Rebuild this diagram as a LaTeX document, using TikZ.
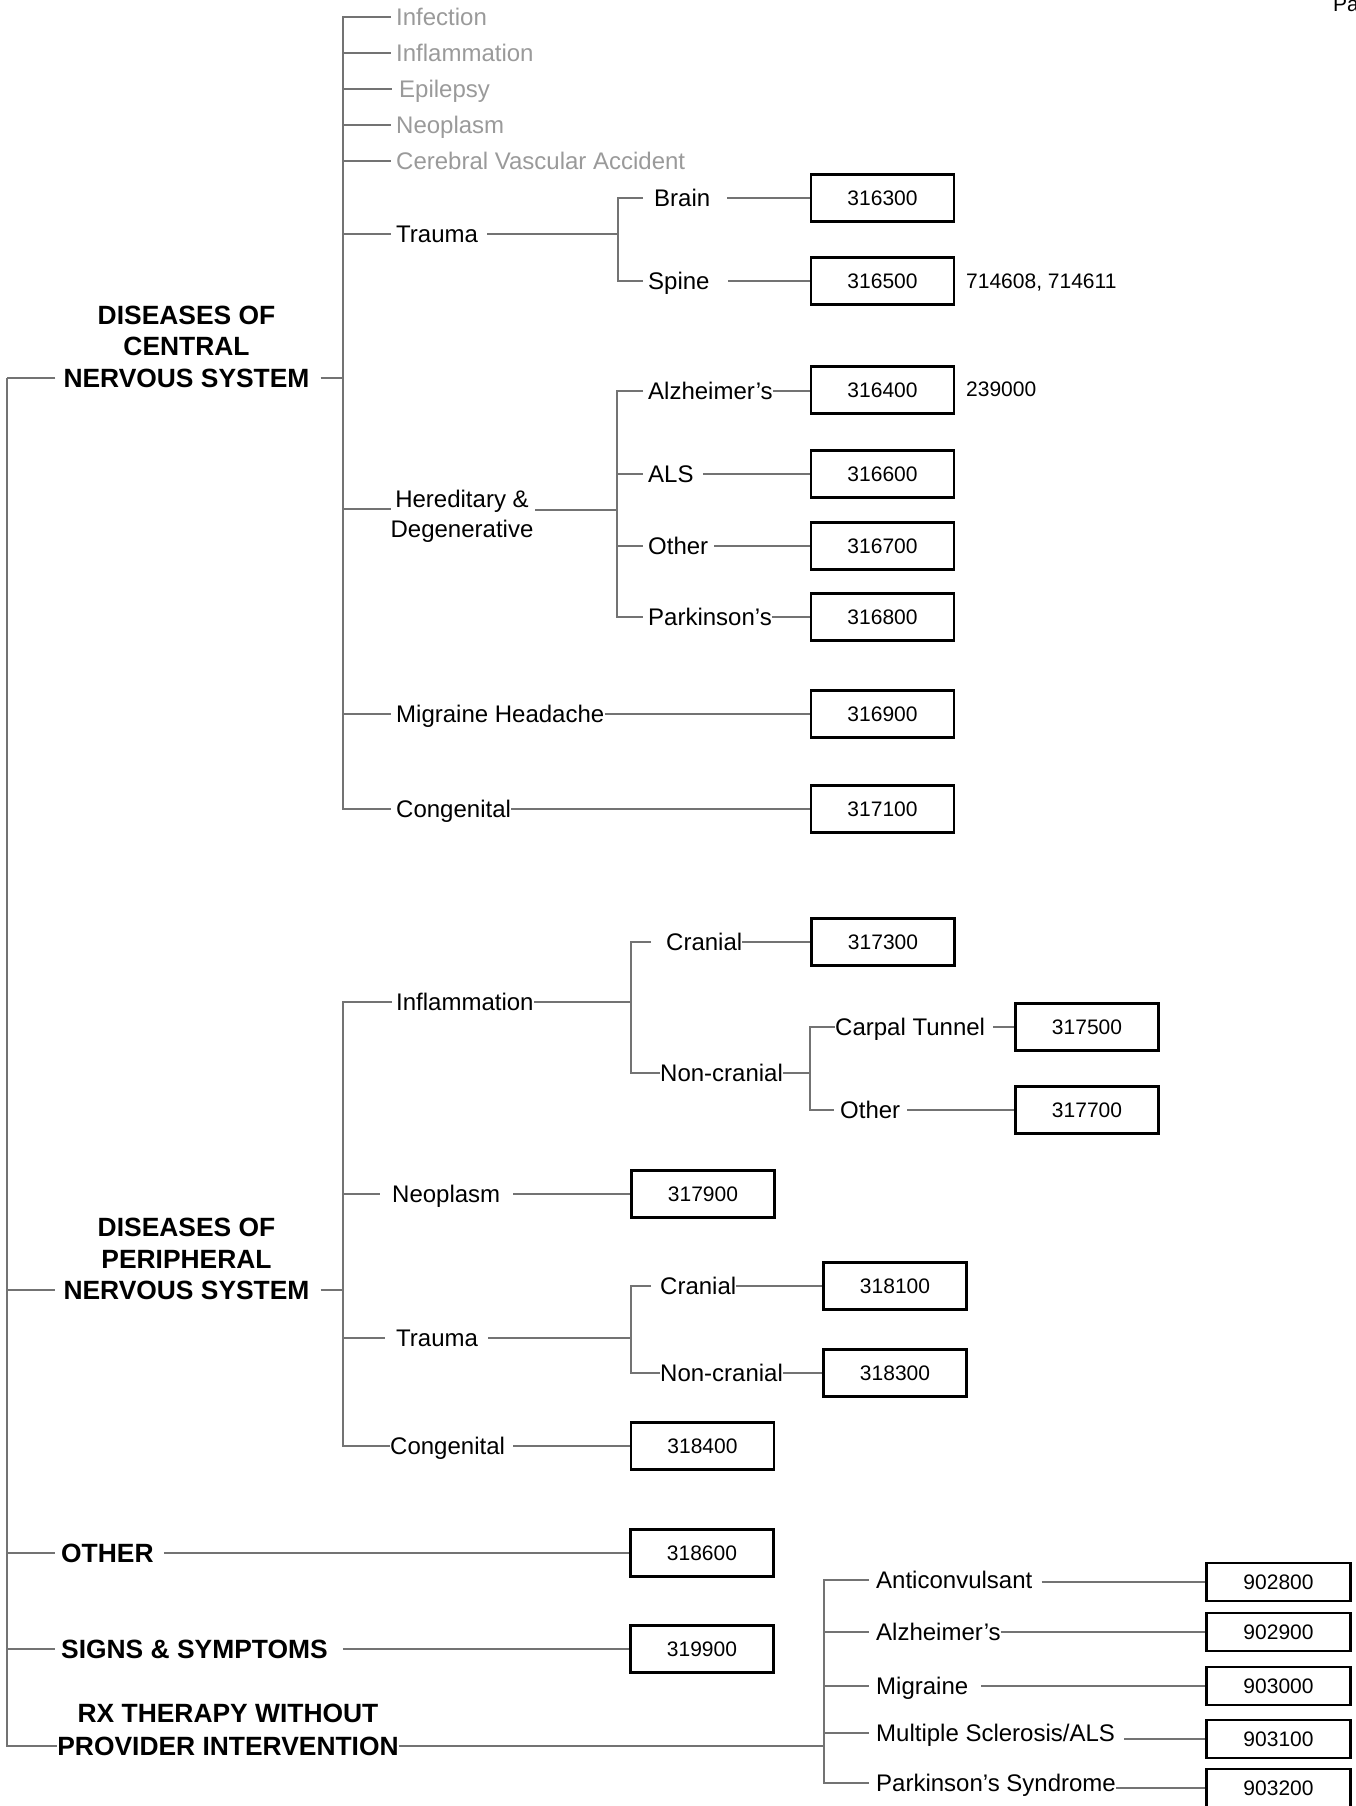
\documentclass[tikz,border=0pt]{standalone}
\usepackage{fontspec}
\setmainfont{Liberation Sans}
\definecolor{lc}{HTML}{737373}
\definecolor{lt}{HTML}{9A9A9A}
\tikzset{
  lbl/.style={anchor=west, inner sep=0pt, font=\fontsize{24}{28}\selectfont, text height=17pt, text depth=0pt},
  glbl/.style={lbl, text=lt},
  clbl/.style={anchor=center, inner sep=0pt, font=\fontsize{26.4}{30}\selectfont\bfseries, text height=19pt, text depth=0pt},
  blbl/.style={clbl, anchor=west},
  bx/.style={draw=black, line width=2.7pt, minimum width=143pt, minimum height=47pt, inner sep=0pt, font=\fontsize{21}{25}\selectfont, text height=15pt, text depth=0pt},
  sbx/.style={bx, minimum width=144pt, minimum height=38pt},
  note/.style={anchor=west, inner sep=0pt, font=\fontsize{21}{25}\selectfont, text height=15pt, text depth=0pt},
  conn/.style={draw=lc, line width=1.4pt}
}
\begin{document}
\begin{tikzpicture}[x=1pt,y=-1pt]
\useasboundingbox (0,0) rectangle (1356,1806);
\clip (0,0) rectangle (1356,1806);
% spine x positions
\coordinate (mv) at (7,0);
\coordinate (cv) at (343,0);
\coordinate (tv) at (618,0);
\coordinate (hv) at (617,0);
\coordinate (pv) at (343,0);
\coordinate (iv) at (631,0);
\coordinate (nv) at (810,0);
\coordinate (rv) at (824,0);

\node[note, anchor=base west] (pg) at (1333,12) {Pa};

% ===== CNS =====
\node[clbl] (cns1) at (186.5,315) {DISEASES OF};
\node[clbl] (cns2) at (186.5,346) {CENTRAL};
\node[clbl] (cns3) at (186.5,378) {NERVOUS SYSTEM};

\node[glbl] (inf) at (396,17) {Infection};
\node[glbl] (infl) at (396,53) {Inflammation};
\node[glbl] (epi) at (399,89) {Epilepsy};
\node[glbl] (neo) at (396,125) {Neoplasm};
\node[glbl] (cva) at (396,161) {Cerebral Vascular Accident};
\node[lbl] (tr) at (396,234) {Trauma};
\node[lbl, anchor=center] (her1) at (462,499) {Hereditary \&};
\node[lbl, anchor=center] (her2) at (462,529) {Degenerative};
\node[lbl] (mig) at (396,714) {Migraine Headache};
\node[lbl] (cong) at (396,809) {Congenital};

\node[lbl] (brain) at (654,198) {Brain};
\node[lbl] (spine) at (648,281) {Spine};
\node[lbl] (alz) at (648,391) {Alzheimer’s};
\node[lbl] (als) at (648,474) {ALS};
\node[lbl] (oth) at (648,546) {Other};
\node[lbl] (park) at (648,617) {Parkinson’s};

\node[bx] (b316300) at (882.5,198) {316300};
\node[bx] (b316500) at (882.5,281) {316500};
\node[bx] (b316400) at (882.5,390) {316400};
\node[bx] (b316600) at (882.5,474) {316600};
\node[bx] (b316700) at (882.5,546) {316700};
\node[bx] (b316800) at (882.5,617) {316800};
\node[bx] (b316900) at (882.5,714) {316900};
\node[bx] (b317100) at (882.5,809) {317100};

\node[note] (n1) at (966,281) {714608, 714611};
\node[note] (n2) at (966,389) {239000};

\draw[conn] ([xshift=-8]cns3.west) -- (cns3.west -| mv);
\draw[conn] ([xshift=11]cns3.east) -- (cns3.east -| cv);
\draw[conn] ([xshift=-5]inf.west) -- (inf.west -| cv) -- (cong.west -| cv) -- ([xshift=-5]cong.west);
\draw[conn] (infl.west -| cv) -- ([xshift=-5]infl.west);
\draw[conn] (epi.west -| cv) -- ([xshift=-7]epi.west);
\draw[conn] (neo.west -| cv) -- ([xshift=-5]neo.west);
\draw[conn] (cva.west -| cv) -- ([xshift=-5]cva.west);
\draw[conn] (tr.west -| cv) -- ([xshift=-5]tr.west);
\draw[conn] (mig.west -| cv) -- ([xshift=-5]mig.west);
\coordinate (hj) at (391,509);
\coordinate (hk) at (535,510);
\draw[conn] (hj -| cv) -- (hj);
\draw[conn] (hk) -- (hk -| hv);

\draw[conn] ([xshift=9]tr.east) -- (tr.east -| tv);
\draw[conn] ([xshift=-11]brain.west) -- (brain.west -| tv) -- (spine.west -| tv) -- ([xshift=-5]spine.west);
\draw[conn] ([xshift=17]brain.east) -- (b316300.west);
\draw[conn] ([xshift=18]spine.east) -- (b316500.west);

\draw[conn] ([xshift=-5]alz.west) -- (alz.west -| hv) -- (park.west -| hv) -- ([xshift=-5]park.west);
\draw[conn] (als.west -| hv) -- ([xshift=-5]als.west);
\draw[conn] (oth.west -| hv) -- ([xshift=-5]oth.west);
\draw[conn] (alz.east) -- (alz.east -| b316400.west);
\draw[conn] ([xshift=9]als.east) -- (b316600.west);
\draw[conn] ([xshift=6]oth.east) -- (b316700.west);
\draw[conn] (park.east) -- (b316800.west);
\draw[conn] (mig.east) -- (b316900.west);
\draw[conn] (cong.east) -- (b317100.west);

% ===== PNS =====
\node[clbl] (pns1) at (186.5,1227) {DISEASES OF};
\node[clbl] (pns2) at (186.5,1259) {PERIPHERAL};
\node[clbl] (pns3) at (186.5,1290) {NERVOUS SYSTEM};

\node[lbl] (pinf) at (396,1002) {Inflammation};
\node[lbl] (cr1) at (666,942) {Cranial};
\node[lbl] (nc1) at (660,1073) {Non-cranial};
\node[lbl] (ct) at (835,1027) {Carpal Tunnel};
\node[lbl] (oth2) at (840,1110) {Other};
\node[lbl] (pneo) at (392,1194) {Neoplasm};
\node[lbl] (ptr) at (396,1338) {Trauma};
\node[lbl] (cr2) at (660,1286) {Cranial};
\node[lbl] (nc2) at (660,1373) {Non-cranial};
\node[lbl] (pcong) at (390,1446) {Congenital};

\node[bx] (b317300) at (883,942) {317300};
\node[bx] (b317500) at (1087,1027) {317500};
\node[bx] (b317700) at (1087,1110) {317700};
\node[bx] (b317900) at (703,1194) {317900};
\node[bx] (b318100) at (895,1286) {318100};
\node[bx] (b318300) at (895,1373) {318300};
\node[bx] (b318400) at (702.5,1446) {318400};

\draw[conn] (pns3.west -| mv) -- ([xshift=-8]pns3.west);
\draw[conn] ([xshift=11]pns3.east) -- (pns3.east -| pv);
\draw[conn] ([xshift=-4]pinf.west) -- (pinf.west -| pv) -- (pcong.west -| pv) -- (pcong.west);
\draw[conn] (pneo.west -| pv) -- ([xshift=-12]pneo.west);
\draw[conn] (ptr.west -| pv) -- ([xshift=-11]ptr.west);
\draw[conn] (pinf.east) -- (pinf.east -| iv);
\draw[conn] ([xshift=-15]cr1.west) -- (cr1.west -| iv) -- (nc1.west -| iv) -- (nc1.west);
\draw[conn] (cr1.east) -- (b317300.west);
\draw[conn] (nc1.east) -- (nc1.east -| nv);
\draw[conn] (ct.west) -- (ct.west -| nv) -- (oth2.west -| nv) -- ([xshift=-6]oth2.west);
\draw[conn] ([xshift=8]ct.east) -- (b317500.west);
\draw[conn] ([xshift=7]oth2.east) -- (b317700.west);
\draw[conn] ([xshift=13]pneo.east) -- (b317900.west);
\draw[conn] ([xshift=10]ptr.east) -- (ptr.east -| iv);
\draw[conn] ([xshift=-9]cr2.west) -- (cr2.west -| iv) -- (nc2.west -| iv) -- (nc2.west);
\draw[conn] (cr2.east) -- (b318100.west);
\draw[conn] (nc2.east) -- (b318300.west);
\draw[conn] ([xshift=8]pcong.east) -- (b318400.west);

% ===== OTHER / SIGNS / RX =====
\node[blbl] (other) at (61,1553) {OTHER};
\node[blbl] (signs) at (61,1649) {SIGNS \& SYMPTOMS};
\node[clbl] (rx1) at (228,1713) {RX THERAPY WITHOUT};
\node[clbl] (rx2) at (228,1746) {PROVIDER INTERVENTION};

\node[bx] (b318600) at (702,1553) {318600};
\node[bx] (b319900) at (702,1649) {319900};

\draw[conn] (other.west -| mv) -- ([xshift=-6]other.west);
\draw[conn] ([xshift=10]other.east) -- (b318600.west);
\draw[conn] (signs.west -| mv) -- ([xshift=-6]signs.west);
\draw[conn] ([xshift=15]signs.east) -- (b319900.west);
\draw[conn] (cns3.west -| mv) -- (rx2.west -| mv) -- (rx2.west);
\draw[conn] (rx2.east) -- (rx2.east -| rv);

\node[lbl] (ac) at (876,1580) {Anticonvulsant};
\node[lbl] (alz2) at (876,1632) {Alzheimer’s};
\node[lbl] (mig2) at (876,1686) {Migraine};
\node[lbl] (ms) at (876,1733) {Multiple Sclerosis/ALS};
\node[lbl] (ps) at (876,1783) {Parkinson’s Syndrome};

\node[sbx] (b902800) at (1278.5,1582) {902800};
\node[sbx] (b902900) at (1278.5,1632) {902900};
\node[sbx] (b903000) at (1278.5,1686) {903000};
\node[sbx] (b903100) at (1278.5,1739) {903100};
\node[sbx] (b903200) at (1278.5,1788) {903200};

\draw[conn] ([xshift=-7]ac.west) -- (ac.west -| rv) -- (ps.west -| rv) -- ([xshift=-7]ps.west);
\draw[conn] (alz2.west -| rv) -- ([xshift=-7]alz2.west);
\draw[conn] (mig2.west -| rv) -- ([xshift=-7]mig2.west);
\draw[conn] (ms.west -| rv) -- ([xshift=-7]ms.west);
\draw[conn] ([xshift=9,yshift=-2]ac.east) -- (b902800.west);
\draw[conn] (alz2.east) -- (b902900.west);
\draw[conn] ([xshift=13]mig2.east) -- (b903000.west);
\draw[conn] ([xshift=9,yshift=-6]ms.east) -- (b903100.west);
\draw[conn] ([yshift=-5]ps.east) -- (b903200.west);
\end{tikzpicture}
\end{document}
